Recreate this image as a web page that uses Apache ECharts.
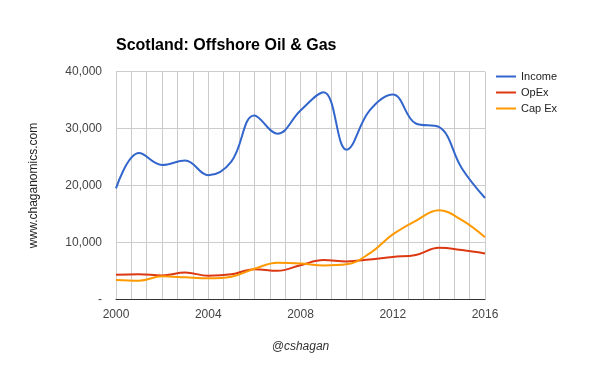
<!DOCTYPE html>
<html>
<head>
<meta charset="utf-8">
<script src="https://cdn.jsdelivr.net/npm/echarts@6/dist/echarts.min.js"></script>
<style>html,body{margin:0;padding:0;background:#fff;}#c{width:600px;height:371px;}</style>
</head>
<body>
<div id="c"></div>
<script>
const years = [2000,2001,2002,2003,2004,2005,2006,2007,2008,2009,2010,2011,2012,2013,2014,2015,2016];
const income = [19500,25700,23600,24400,21800,24200,32300,29100,33200,36400,26300,33200,36000,30900,30300,23000,17800];
const opex = [4300,4400,4200,4700,4150,4400,5300,5000,6000,6900,6650,7000,7450,7800,9050,8650,8050];
const capex = [3400,3270,4030,3860,3680,3970,5370,6430,6310,5960,6140,8070,11400,13800,15650,13900,10900];
const xTicks = [2000,2004,2008,2012,2016];
const yTicks = [0,10000,20000,30000,40000];

const pair = arr => years.map((y,i)=>[y,arr[i]]);
const chart = echarts.init(document.getElementById('c'));
const font = 'Liberation Sans, Arial, sans-serif';
chart.setOption({
  animation:false,
  title:{text:'Scotland: Offshore Oil & Gas',left:116,top:38,padding:0,textStyle:{fontFamily:font,fontSize:16,fontWeight:'bold',color:'#000'}},
  legend:{orient:'vertical',left:491,top:66,itemWidth:20,itemHeight:2,itemGap:5,icon:'rect',
    textStyle:{fontFamily:font,fontSize:11,color:'#222'},
    data:['Income','OpEx','Cap Ex']},
  grid:{left:116,right:115,top:71.7,bottom:71.7},
  xAxis:{type:'value',min:xTicks[0],max:xTicks[xTicks.length-1],interval:4,
    axisLine:{show:true,lineStyle:{color:'#333',width:1}},axisTick:{show:false},
    axisLabel:{fontFamily:font,fontSize:12,color:'#444',margin:9,formatter:v=>String(v)},
    splitLine:{show:true,lineStyle:{color:'#ccc'}},
    minorTick:{show:false,splitNumber:6},
    minorSplitLine:{show:true,lineStyle:{color:'#ccc'}},
    name:'@cshagan',nameLocation:'middle',nameGap:41,
    nameTextStyle:{fontFamily:font,fontSize:12,fontStyle:'italic',color:'#333'}},
  yAxis:{type:'value',min:yTicks[0],max:yTicks[yTicks.length-1],interval:10000,
    axisLine:{show:false},axisTick:{show:false},
    axisLabel:{fontFamily:font,fontSize:12,color:'#444',margin:14,
      formatter:v=>v===0?'-':v.toLocaleString('en-US')},
    splitLine:{show:true,lineStyle:{color:'#ccc'}},
    name:'www.chaganomics.com',nameLocation:'middle',nameGap:76,
    nameTextStyle:{fontFamily:font,fontSize:12,color:'#222'}},
  series:[
    {name:'Income',type:'line',data:pair(income),smooth:0.4,showSymbol:false,lineStyle:{width:2,color:'#3366cc'},itemStyle:{color:'#3366cc'}},
    {name:'OpEx',type:'line',data:pair(opex),smooth:0.4,showSymbol:false,lineStyle:{width:2,color:'#dc3912'},itemStyle:{color:'#dc3912'}},
    {name:'Cap Ex',type:'line',data:pair(capex),smooth:0.4,showSymbol:false,lineStyle:{width:2,color:'#ff9900'},itemStyle:{color:'#ff9900'}}
  ]
});
</script>
</body>
</html>
